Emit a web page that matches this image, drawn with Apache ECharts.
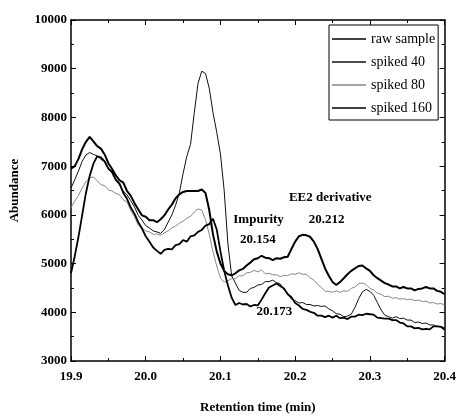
<!DOCTYPE html>
<html><head><meta charset="utf-8">
<script src="https://cdn.jsdelivr.net/npm/echarts@6/dist/echarts.min.js"></script>
<style>html,body{margin:0;padding:0;background:#fff}#c{width:459px;height:419px}</style>
</head><body><div id="c"></div>
<script>
const times = [19.900,19.905,19.910,19.915,19.920,19.925,19.930,19.935,19.940,19.945,
19.950,19.955,19.960,19.965,19.970,19.975,19.980,19.985,19.990,19.995,
20.000,20.005,20.010,20.015,20.020,20.025,20.030,20.035,20.040,20.045,
20.050,20.055,20.060,20.065,20.070,20.075,20.080,20.085,20.090,20.095,
20.100,20.105,20.110,20.115,20.120,20.125,20.130,20.135,20.140,20.145,
20.150,20.155,20.160,20.165,20.170,20.175,20.180,20.185,20.190,20.195,
20.200,20.205,20.210,20.215,20.220,20.225,20.230,20.235,20.240,20.245,
20.250,20.255,20.260,20.265,20.270,20.275,20.280,20.285,20.290,20.295,
20.300,20.305,20.310,20.315,20.320,20.325,20.330,20.335,20.340,20.345,
20.350,20.355,20.360,20.365,20.370,20.375,20.380,20.385,20.390,20.395,
20.400];

const rawSample = [4800,5150,5550,6000,6450,6800,7050,7200,7180,7100,
6950,6880,6720,6640,6450,6330,6150,6020,5850,5720,
5560,5450,5330,5260,5200,5280,5300,5290,5380,5400,
5480,5450,5560,5580,5650,5690,5780,5810,5920,5700,
5250,4850,4550,4300,4150,4190,4160,4170,4120,4150,
4140,4260,4390,4510,4550,4590,4540,4490,4370,4310,
4190,4140,4070,4050,4010,3990,3930,3930,3900,3930,
3890,3930,3880,3890,3860,3910,3910,3950,3940,3970,
3960,3950,3890,3880,3870,3870,3840,3840,3790,3770,
3710,3710,3670,3680,3650,3660,3650,3710,3710,3700,
3640];

const spiked40 = [6550,6720,6900,7100,7230,7280,7240,7210,7140,7090,
6940,6860,6710,6610,6490,6410,6290,6160,5990,5890,
5780,5730,5670,5650,5620,5700,5850,6000,6200,6450,
6850,7200,7450,8100,8700,8950,8900,8600,8100,7700,
7250,6500,5400,4750,4600,4450,4410,4410,4490,4510,
4560,4570,4630,4630,4660,4610,4580,4470,4390,4270,
4240,4190,4200,4160,4160,4130,4140,4120,4130,4070,
4030,3970,3960,3910,3920,3960,4100,4280,4420,4470,
4430,4350,4200,4050,3940,3910,3880,3910,3870,3880,
3840,3840,3790,3800,3770,3780,3740,3740,3710,3710,
3680];

const spiked80 = [6150,6280,6400,6550,6680,6760,6780,6700,6620,6600,
6510,6490,6440,6410,6310,6260,6090,5960,5790,5730,
5670,5650,5600,5610,5580,5630,5670,5730,5770,5830,
5870,5930,5970,6060,6120,6100,5900,5600,5250,4950,
4700,4620,4650,4690,4690,4750,4750,4810,4820,4860,
4830,4870,4790,4800,4770,4770,4730,4760,4750,4790,
4780,4810,4780,4780,4710,4660,4570,4510,4430,4430,
4410,4440,4410,4440,4430,4490,4520,4590,4600,4570,
4490,4460,4390,4370,4320,4330,4290,4300,4270,4280,
4260,4270,4240,4250,4220,4230,4190,4200,4170,4180,
4150];

const spiked160 = [6950,7000,7150,7350,7500,7600,7510,7410,7360,7240,
7060,6940,6810,6710,6660,6490,6390,6240,6110,5990,
5960,5890,5890,5850,5910,5990,6110,6210,6340,6420,
6470,6490,6490,6490,6490,6520,6450,6100,5600,5250,
5000,4850,4780,4760,4800,4860,4890,4960,5020,5090,
5110,5160,5120,5110,5070,5110,5100,5130,5140,5300,
5450,5560,5590,5580,5550,5450,5300,5100,4900,4750,
4620,4560,4620,4700,4780,4850,4900,4950,4960,4900,
4850,4760,4700,4650,4600,4570,4530,4530,4490,4520,
4490,4490,4450,4480,4490,4520,4490,4490,4440,4420,
4370];

const seriesNames = ['raw sample','spiked 40','spiked 80','spiked 160'];
const xTicks = [19.9, 20.0, 20.1, 20.2, 20.3, 20.4];
const yTicks = [3000,4000,5000,6000,7000,8000,9000,10000];

const annoTexts = ['EE2 derivative','20.212','Impurity','20.154','20.173'];
const annoX = [20.247, 20.242, 20.151, 20.150, 20.172];
const annoY = [6360, 5910, 5910, 5490, 4010];

const serif = 'Liberation Serif, Times New Roman, serif';
const pairs = arr => times.map((t,i)=>[t, arr[i]]);

const chart = echarts.init(document.getElementById('c'));
const axisCommon = {
  axisLine:{show:true, lineStyle:{color:'#000', width:1.5}},
  axisTick:{show:true, inside:true, length:5, lineStyle:{color:'#000', width:1}},
  minorTick:{show:true, splitNumber:2, length:3, lineStyle:{color:'#000', width:1}},
  splitLine:{show:false}
};
chart.setOption({
  animation:false,
  backgroundColor:'#fff',
  grid:{left:66, right:11, top:20, bottom:53},
  legend:{
    data:seriesNames, orient:'vertical', left:329, top:25,
    icon:'rect', itemWidth:34, itemHeight:1.6, itemGap:7,
    padding:[6,3,4,3], borderColor:'#000', borderWidth:1,
    textStyle:{fontFamily:serif, fontSize:14, color:'#000', lineHeight:16}
  },
  xAxis:[
    Object.assign({type:'value', min:xTicks[0], max:xTicks[xTicks.length-1], interval:0.1,
      name:'Retention time (min)', nameLocation:'middle', nameGap:40,
      nameTextStyle:{fontFamily:serif, fontWeight:'bold', fontSize:13, color:'#000'},
      axisLabel:{fontFamily:serif, fontWeight:'bold', fontSize:13, color:'#000', margin:9,
        formatter:v=>v.toFixed(1)}}, axisCommon),
    Object.assign({type:'value', position:'top', min:xTicks[0], max:xTicks[xTicks.length-1], interval:0.1,
      axisLabel:{show:false}}, axisCommon)
  ],
  yAxis:[
    Object.assign({type:'value', min:yTicks[0], max:yTicks[yTicks.length-1], interval:1000,
      name:'Abundance', nameLocation:'middle', nameGap:50,
      nameTextStyle:{fontFamily:serif, fontWeight:'bold', fontSize:13, color:'#000'},
      axisLabel:{fontFamily:serif, fontWeight:'bold', fontSize:13, color:'#000', margin:4,
        formatter:v=>String(v)}}, axisCommon),
    Object.assign({type:'value', position:'right', min:yTicks[0], max:yTicks[yTicks.length-1], interval:1000,
      axisLabel:{show:false}}, axisCommon)
  ],
  series:[
    {name:seriesNames[1], type:'line', data:pairs(spiked40), symbol:'none',
      lineStyle:{color:'#111', width:1}, itemStyle:{color:'#111'}},
    {name:seriesNames[2], type:'line', data:pairs(spiked80), symbol:'none',
      lineStyle:{color:'#888', width:1}, itemStyle:{color:'#888'}},
    {name:seriesNames[0], type:'line', data:pairs(rawSample), symbol:'none',
      lineStyle:{color:'#000', width:1.8}, itemStyle:{color:'#000'}},
    {name:seriesNames[3], type:'line', data:pairs(spiked160), symbol:'none',
      lineStyle:{color:'#000', width:2}, itemStyle:{color:'#000'},
      markPoint:{
        symbol:'rect', symbolSize:1, itemStyle:{color:'rgba(0,0,0,0)'},
        label:{show:true, position:'inside', formatter:p=>p.name, color:'#000',
          fontFamily:serif, fontWeight:'bold', fontSize:13},
        data:annoTexts.map((t,i)=>({name:t, coord:[annoX[i], annoY[i]]}))
      }}
  ]
});
</script></body></html>
